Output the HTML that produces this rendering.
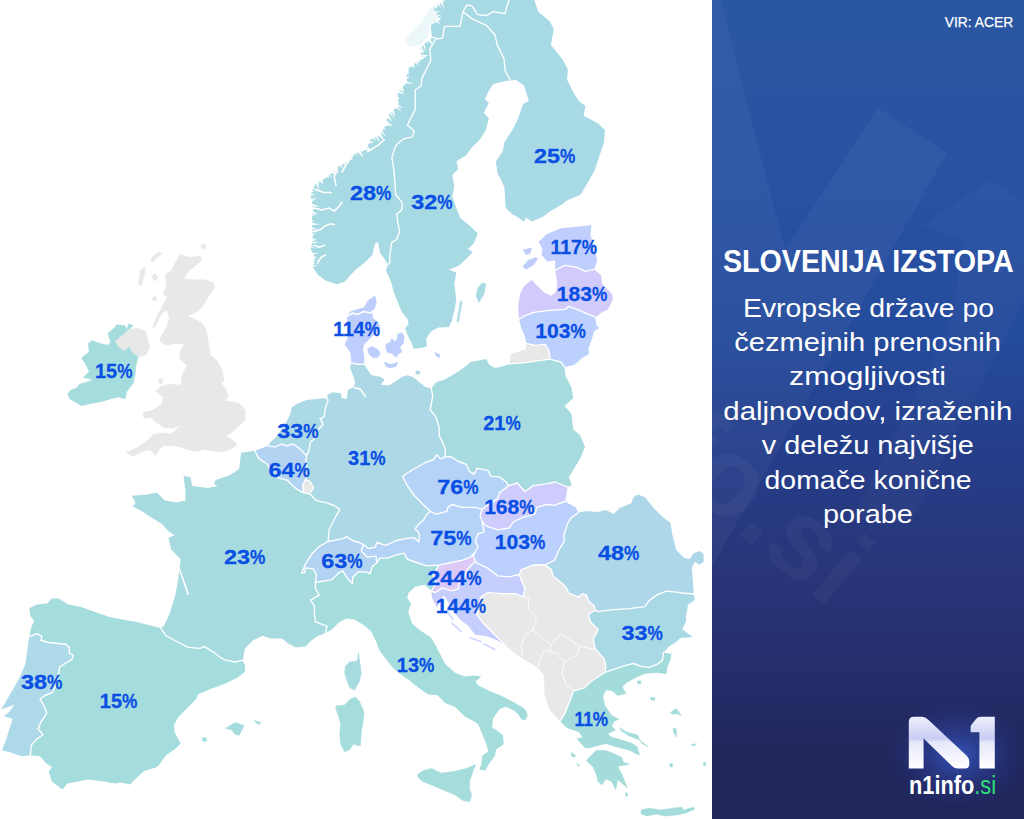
<!DOCTYPE html>
<html lang="sl">
<head>
<meta charset="utf-8">
<title>Slovenija izstopa</title>
<style>
html,body{margin:0;padding:0;}
body{width:1024px;height:819px;position:relative;overflow:hidden;background:#fff;font-family:"Liberation Sans",sans-serif;}
#map{position:absolute;left:0;top:0;width:1024px;height:819px;}
#map text{font-family:"Liberation Sans",sans-serif;font-weight:700;font-size:20.8px;fill:#0a4fe4;stroke:#0a4fe4;stroke-width:0.3px;text-anchor:middle;}
#panel{position:absolute;left:712px;top:0;width:312px;height:819px;overflow:hidden;
 background:linear-gradient(180deg,#2a57a2 0%,#2951a3 26%,#244a9b 42%,#253e8a 55%,#28367a 69%,#262e6c 81%,#22285e 91%,#20255a 100%);}
#panel svg.deco{position:absolute;left:0;top:0;width:312px;height:819px;}
#vir{position:absolute;right:10.4px;top:12.4px;color:#fff;font-size:15.4px;line-height:20px;font-weight:400;white-space:nowrap;transform:scaleX(0.898);transform-origin:100% 50%;-webkit-text-stroke:0.25px #fff;}
#title{position:absolute;left:-44px;width:400px;top:243px;text-align:center;color:#fff;font-weight:700;font-size:31px;line-height:38px;white-space:nowrap;}
#title span{display:inline-block;transform-origin:50% 50%;transform:scaleX(0.924);}
#desc{position:absolute;left:-44px;width:400px;top:290.6px;text-align:center;color:#fff;font-size:25px;line-height:34.4px;}
#desc div{white-space:nowrap;height:34.4px;}
#desc span{display:inline-block;transform-origin:50% 50%;}
#logo{position:absolute;left:0;top:0;width:312px;height:819px;}
#n1info{position:absolute;left:196.8px;top:769.5px;color:#fff;font-weight:700;font-size:25px;line-height:30px;white-space:nowrap;transform:scaleX(0.87);transform-origin:0 50%;}
#n1info i{font-style:normal;font-weight:400;color:#2fe07a;}
</style>
</head>
<body>
<svg id="map" viewBox="0 0 1024 819">
<path d="M445.4,0.0 508.9,0.0 505.0,13.7 493.3,11.7 486.4,15.6 477.7,14.6 471.8,5.9 466.9,4.9 463.0,11.7 460.0,26.4 444.5,26.4 442.5,38.1 435.7,39.0 429.8,48.8 430.8,60.5 422.0,78.1 421.0,86.0 415.2,89.8 415.2,109.4 407.3,125.0 414.2,130.9 412.3,136.8 403.5,138.8 395.7,145.6 391.8,157.3 393.8,169.1 394.7,180.8 395.7,194.5 402.5,203.2 401.6,210.1 396.7,214.0 397.7,221.8 399.6,231.6 396.7,239.4 391.8,242.3 389.8,255.0 389.8,262.8 387.9,264.8 385.9,260.9 380.1,253.0 378.1,242.3 375.2,243.3 372.3,255.0 364.5,262.8 354.7,270.6 344.9,281.4 337.1,284.3 325.4,280.4 317.6,274.5 312.7,266.7 314.6,257.0 310.7,249.1 312.7,239.4 311.7,223.8 312.7,208.1 310.7,194.5 314.6,184.7 327.3,176.9 337.1,167.1 346.9,162.2 354.7,153.4 366.4,149.5 370.3,139.8 380.0,134.8 385.9,125.0 387.8,115.2 398.6,105.5 397.6,91.8 407.3,82.0 405.4,70.3 422.0,58.6 419.0,48.8 432.0,37.1 430.5,26.0 439.0,19.5 434.0,8.8 445.4,0.0Z" fill="#a8dae4"/>
<path d="M463.0,11.7 471.8,18.6 486.4,25.4 495.2,35.2 497.2,44.9 504.0,58.6 505.0,70.3 510.9,81.0 508.4,80.5 497.2,83.0 492.7,84.4 488.4,91.8 484.9,99.0 488.8,103.0 483.9,112.7 488.8,118.6 485.9,130.3 479.7,139.8 471.9,147.6 466.0,155.4 456.3,161.3 458.2,169.1 452.3,174.9 454.3,186.6 452.3,196.4 456.3,208.1 460.2,217.9 469.9,225.7 477.7,233.5 473.8,243.3 468.0,249.1 472.9,252.1 466.0,258.9 460.2,264.8 454.3,267.7 448.4,269.6 456.3,272.6 454.3,284.3 456.2,299.0 454.8,309.3 451.8,321.0 448.9,326.9 438.6,327.6 431.3,331.3 426.2,338.6 426.9,346.6 421.1,348.1 413.7,348.8 411.6,343.0 407.9,335.7 405.0,328.3 408.6,323.9 407.9,319.5 402.0,312.2 397.6,302.0 393.2,290.3 391.8,284.3 389.8,278.4 385.9,270.6 387.9,264.8 389.8,262.8 389.8,255.0 391.8,242.3 396.7,239.4 399.6,231.6 397.7,221.8 396.7,214.0 401.6,210.1 402.5,203.2 395.7,194.5 394.7,180.8 393.8,169.1 391.8,157.3 395.7,145.6 403.5,138.8 412.3,136.8 414.2,130.9 407.3,125.0 415.2,109.4 415.2,89.8 421.0,86.0 422.0,78.1 430.8,60.5 429.8,48.8 435.7,39.0 442.5,38.1 444.5,26.4 460.0,26.4 463.0,11.7Z" fill="#a8dae4"/>
<path d="M508.9,0.0 534.3,0.0 538.2,11.7 549.9,21.5 553.8,29.3 550.9,44.9 563.0,60.0 567.9,69.8 567.0,79.5 572.8,91.3 578.7,101.0 585.5,105.9 583.6,115.7 598.2,123.5 605.0,130.3 604.1,142.0 594.3,171.3 580.6,194.8 567.0,200.6 561.1,204.9 549.4,211.7 543.5,216.6 531.8,221.5 526.0,217.5 524.0,221.5 518.1,217.6 512.3,214.3 507.4,209.8 505.4,206.5 504.5,187.0 497.6,173.3 495.7,161.6 502.5,151.8 504.5,142.0 512.3,130.3 518.1,118.6 523.0,103.9 528.9,101.0 524.0,85.4 515.2,79.5 510.9,81.0 505.0,70.3 504.0,58.6 497.2,44.9 495.2,35.2 486.4,25.4 471.8,18.6 463.0,11.7 466.9,4.9 471.8,5.9 477.7,14.6 486.4,15.6 493.3,11.7 505.0,13.7 508.9,0.0Z" fill="#a8dae5"/>
<path d="M351.5,362.8 356.6,364.2 363.9,364.2 368.3,370.8 371.3,375.2 380.1,376.7 384.5,379.6 380.8,384.7 388.8,385.5 396.2,381.1 402.0,376.7 407.9,375.2 413.7,377.4 419.6,382.5 425.5,386.9 431.3,388.4 432.7,396.2 430.2,409.8 436.0,417.2 439.0,427.0 439.5,436.2 443.4,444.0 445.3,449.8 445.2,456.8 442.0,458.6 440.4,458.6 436.8,454.7 433.6,459.6 425.4,462.5 421.9,464.5 412.1,470.0 404.3,475.2 402.6,476.6 407.5,486.0 414.3,495.5 423.6,505.0 430.3,511.3 425.4,516.2 423.4,520.1 418.9,523.9 415.0,528.8 418.9,532.7 419.5,535.7 418.9,541.9 414.0,537.6 405.2,538.6 396.4,540.5 385.7,545.4 376.9,542.5 375.0,547.3 368.1,548.3 363.2,544.4 359.3,542.5 352.5,540.5 346.6,536.6 342.7,538.6 328.1,541.5 329.1,529.8 334.0,520.0 335.9,516.3 339.8,509.4 334.0,505.5 326.2,502.6 316.4,500.6 309.6,493.8 313.5,487.9 310.5,482.1 305.7,479.1 308.6,471.3 305.7,463.5 306.6,455.7 308.6,451.8 310.5,442.0 315.4,438.1 318.4,429.3 323.2,424.5 320.3,418.6 324.2,416.6 325.2,408.8 328.1,400.0 327.1,395.2 332.0,392.2 340.8,393.2 341.8,398.1 346.7,399.1 347.8,389.9 353.7,386.9 355.2,382.5 353.0,375.2 350.0,367.9 351.5,362.8Z" fill="#add8e6"/>
<path d="M431.3,388.4 435.7,382.5 444.5,379.6 454.8,373.7 463.5,367.9 470.8,362.0 486.4,359.1 489.3,364.9 495.2,367.9 504.0,365.9 509.8,363.9 525.5,362.6 549.9,359.1 560.6,362.0 564.5,366.9 565.5,375.7 571.4,387.4 573.3,398.1 564.5,405.9 571.4,413.8 573.3,429.4 580.2,435.2 585.0,446.9 580.7,457.6 573.8,469.3 568.9,477.1 571.8,485.6 567.5,487.0 555.3,482.0 545.5,483.9 532.8,485.9 525.0,491.8 517.2,483.0 508.4,485.9 506.4,482.0 499.6,477.1 490.8,476.1 487.9,470.3 477.1,468.3 474.2,474.2 469.3,471.3 466.4,464.4 458.6,461.5 450.8,456.6 445.2,456.8 445.3,449.8 443.4,444.0 439.5,436.2 439.0,427.0 436.0,417.2 430.2,409.8 432.7,396.2 431.3,388.4Z" fill="#a8dbe0"/>
<path d="M254.8,450.7 258.8,458.6 266.6,463.5 271.5,471.3 279.3,478.2 287.1,480.1 292.0,485.0 297.9,489.9 303.7,492.8 309.6,493.8 316.4,500.6 326.2,502.6 334.0,505.5 339.8,509.4 335.9,516.3 334.0,520.0 329.1,529.8 328.1,541.5 319.3,546.4 312.5,553.2 305.6,563.9 301.7,572.7 304.6,572.7 305.6,567.9 313.4,568.8 316.4,574.7 315.4,582.5 315.4,588.4 319.3,595.2 310.5,600.1 314.4,605.9 314.4,613.8 315.4,621.6 327.1,626.4 325.2,633.3 317.3,636.2 311.4,640.5 305.5,646.4 295.8,647.4 288.0,643.5 282.1,638.6 270.4,638.6 262.6,635.7 252.8,640.5 245.0,648.4 243.0,658.1 245.0,664.0 243.0,660.1 235.2,662.0 225.5,660.1 219.6,657.1 213.8,652.3 204.0,646.4 200.1,648.4 188.4,647.4 176.6,641.5 165.9,635.7 160.5,627.9 163.9,625.9 169.8,613.2 174.7,597.6 176.6,588.4 178.6,576.7 179.6,567.0 180.9,559.5 171.2,549.4 168.4,537.7 174.7,535.3 168.8,531.4 162.0,524.0 149.3,516.2 140.5,510.3 132.7,506.4 135.6,502.5 131.7,495.7 145.4,494.7 157.1,492.7 164.9,500.5 176.6,502.5 185.4,500.5 185.4,490.8 183.5,476.1 190.3,477.1 192.3,485.9 207.9,487.9 217.7,485.9 213.8,483.9 215.7,480.0 229.4,475.2 239.1,469.3 241.1,452.7 254.8,450.7Z" fill="#a7dbe0"/>
<path d="M160.5,627.9 165.9,635.7 176.6,641.5 188.4,647.4 200.1,648.4 204.0,646.4 213.8,652.3 219.6,657.1 225.5,660.1 235.2,662.0 243.0,660.1 245.0,664.0 245.0,671.8 237.2,677.7 225.5,683.5 211.8,688.4 198.1,694.3 196.2,699.1 186.4,708.9 178.6,716.7 173.7,725.5 174.8,732.7 180.7,743.5 175.8,748.4 166.0,755.2 158.2,765.9 154.3,767.9 144.5,770.8 136.7,777.7 129.9,784.5 121.1,782.5 115.2,783.5 103.5,781.6 87.9,779.6 78.1,781.6 67.4,783.5 62.5,789.4 51.8,781.6 48.8,771.8 51.8,766.9 46.9,764.0 40.0,756.2 30.3,755.2 31.3,745.4 36.1,739.6 43.0,734.7 38.1,728.8 41.0,722.0 46.9,713.2 43.9,705.4 40.0,699.1 43.9,696.2 52.7,692.3 56.6,683.5 58.6,673.8 59.6,666.9 64.5,664.0 72.3,659.1 73.2,655.2 69.3,653.2 69.3,647.4 66.4,644.5 58.6,643.5 48.8,642.5 41.0,640.5 42.0,636.6 37.1,633.7 29.3,636.6 31.3,626.9 34.2,621.0 30.3,616.1 29.3,608.3 37.1,604.4 46.9,603.4 51.8,598.6 58.6,598.6 68.4,604.4 82.0,607.3 95.7,612.2 109.4,617.1 125.0,620.0 136.7,622.0 152.3,625.9 160.5,627.9Z" fill="#a5dcdd"/>
<path d="M325.2,633.3 327.1,626.4 315.4,621.6 314.4,613.8 314.4,605.9 310.5,600.1 319.3,595.2 315.4,588.4 315.4,582.5 321.3,581.5 332.0,579.6 337.9,573.7 342.7,570.8 347.6,578.6 352.5,583.5 352.5,577.6 358.4,571.8 366.2,571.8 370.1,573.7 372.0,566.9 376.9,563.0 379.8,558.1 387.7,558.1 395.5,555.2 404.3,553.2 407.2,559.1 415.0,562.0 426.7,565.9 439.1,565.2 433.2,575.2 436.1,583.0 431.3,590.8 424.8,584.8 415.0,586.8 408.2,593.2 407.2,598.1 411.1,604.0 408.2,611.8 412.1,623.5 418.9,629.4 430.6,637.2 435.5,645.0 441.4,656.7 445.2,663.9 455.0,672.7 464.8,676.6 474.5,675.6 481.4,676.6 475.5,681.5 478.4,685.4 490.2,691.3 501.9,696.1 513.6,702.0 523.4,707.9 527.3,714.7 525.3,720.5 521.4,717.6 514.6,710.8 505.8,706.9 499.9,708.8 493.1,718.6 492.1,727.4 498.0,731.3 502.9,735.2 503.8,744.0 496.0,749.8 495.0,755.7 489.2,763.5 485.3,770.4 479.4,769.4 481.4,763.5 482.3,755.7 488.2,751.8 486.3,744.0 482.3,734.2 478.4,724.5 472.6,720.5 464.8,716.6 455.0,706.9 445.2,703.0 437.4,695.2 427.7,694.2 417.9,687.3 408.1,679.5 403.3,676.3 393.5,668.4 385.7,658.7 379.8,650.9 375.9,641.1 371.1,631.3 364.2,625.5 354.5,619.6 346.6,618.6 338.8,622.5 332.0,629.4 325.2,633.3Z" fill="#a5dcdc"/>
<path d="M560.0,721.2 564.9,713.3 568.8,703.5 573.7,690.8 584.5,687.9 590.3,682.0 605.0,672.3 613.8,669.3 625.5,665.4 633.3,663.5 641.1,666.4 648.9,667.4 656.7,664.5 662.2,660.9 663.6,652.7 671.4,653.7 670.4,660.5 667.5,666.4 666.5,674.2 656.7,672.7 645.0,673.8 635.2,678.1 626.4,683.0 622.5,686.9 626.4,693.8 617.7,695.7 611.8,690.8 605.9,690.2 603.0,696.7 605.0,705.5 611.8,715.2 619.6,719.3 614.7,721.3 611.8,726.1 615.7,730.0 607.9,734.0 611.8,736.9 621.6,739.8 631.3,742.7 637.2,746.6 640.1,755.4 637.2,754.5 629.4,750.5 621.6,748.6 613.8,746.6 605.9,743.7 598.1,745.7 588.4,748.6 584.5,747.6 576.6,738.8 582.5,736.9 578.6,732.0 566.9,728.1 560.0,721.2Z" fill="#a4dcdb"/>
<path d="M267.6,445.9 270.5,442.0 275.4,438.1 279.3,432.3 286.1,422.5 290.0,414.7 292.0,406.9 298.8,403.0 306.6,400.0 316.4,399.1 324.2,398.1 328.1,400.0 325.2,408.8 324.2,416.6 320.3,418.6 323.2,424.5 318.4,429.3 315.4,438.1 310.5,442.0 308.6,451.8 306.6,455.7 302.7,451.8 298.8,447.9 293.0,444.0 287.1,445.9 281.3,444.0 275.4,446.9 267.6,445.9Z" fill="#abd9e6"/>
<path d="M595.2,610.2 598.1,611.6 613.8,609.6 629.4,608.7 645.0,606.7 648.9,600.9 656.7,595.0 666.5,591.1 676.3,592.1 682.1,593.0 693.8,594.0 694.8,599.9 688.0,604.8 686.0,616.5 686.0,621.5 682.1,629.3 692.9,637.1 680.2,638.1 676.3,642.0 668.4,646.9 663.6,652.7 662.2,660.9 656.7,664.5 648.9,667.4 641.1,666.4 633.3,663.5 625.5,665.4 613.8,669.3 605.0,672.3 605.9,666.4 604.0,658.6 595.2,648.8 593.2,639.1 598.1,629.6 590.3,621.9 588.4,614.5 595.2,610.2Z" fill="#aad9e6"/>
<path d="M29.3,636.6 37.1,633.7 42.0,636.6 41.0,640.5 48.8,642.5 58.6,643.5 66.4,644.5 69.3,647.4 69.3,653.2 73.2,655.2 72.3,659.1 64.5,664.0 59.6,666.9 58.6,673.8 56.6,683.5 52.7,692.3 43.9,696.2 40.0,699.1 43.9,705.4 46.9,713.2 41.0,722.0 38.1,728.8 43.0,734.7 36.1,739.6 31.3,745.4 30.3,755.2 21.5,756.2 9.8,752.3 2.0,750.3 5.9,740.5 8.8,730.8 12.7,719.1 3.9,716.1 8.8,712.2 14.6,704.4 7.8,707.3 1.0,709.3 3.9,705.0 10.7,693.3 18.6,679.6 25.4,664.0 27.3,650.3 29.3,636.6Z" fill="#aed9e9"/>
<path d="M578.2,512.6 586.4,511.0 598.1,512.0 605.9,510.0 613.8,513.9 619.6,508.1 631.3,503.2 633.3,497.3 638.2,494.4 645.0,497.3 652.8,507.1 662.6,516.9 670.4,522.7 672.3,534.5 676.3,550.1 684.1,557.9 689.9,558.9 693.8,553.0 699.7,551.1 703.6,554.0 703.6,561.8 699.7,564.7 694.8,561.8 691.9,567.7 692.9,581.3 693.8,594.0 682.1,593.0 676.3,592.1 666.5,591.1 656.7,595.0 648.9,600.9 645.0,606.7 629.4,608.7 613.8,609.6 598.1,611.6 595.2,610.2 594.2,605.7 588.4,600.9 586.4,595.0 582.5,594.0 578.6,597.0 568.8,593.0 565.9,587.2 562.0,583.3 553.2,576.4 551.3,569.6 545.0,564.8 554.3,560.5 559.2,549.5 564.1,541.6 564.0,534.5 567.5,524.0 570.9,518.1 578.2,512.6Z" fill="#aed8ea"/>
<path d="M328.1,541.5 342.7,538.6 346.6,536.6 352.5,540.5 359.3,542.5 363.2,544.4 361.3,551.3 367.1,557.1 375.9,556.1 376.9,563.0 372.0,566.9 370.1,573.7 366.2,571.8 358.4,571.8 352.5,577.6 352.5,583.5 347.6,578.6 342.7,570.8 337.9,573.7 332.0,579.6 321.3,581.5 315.4,582.5 316.4,574.7 313.4,568.8 305.6,567.9 304.6,572.7 301.7,572.7 305.6,563.9 312.5,553.2 319.3,546.4 328.1,541.5Z" fill="#b3d3f2"/>
<path d="M254.8,450.7 267.6,445.9 275.4,446.9 281.3,444.0 287.1,445.9 293.0,444.0 298.8,447.9 302.7,451.8 306.6,455.7 305.7,463.5 308.6,471.3 305.7,479.1 302.7,485.0 303.7,492.8 297.9,489.9 292.0,485.0 287.1,480.1 279.3,478.2 271.5,471.3 266.6,463.5 258.8,458.6 254.8,450.7Z" fill="#b3d3f3"/>
<path d="M363.2,544.4 368.1,548.3 375.0,547.3 376.9,542.5 385.7,545.4 396.4,540.5 405.2,538.6 414.0,537.6 418.9,541.9 419.5,535.7 418.9,532.7 415.0,528.8 418.9,523.9 423.4,520.1 425.4,516.2 430.3,511.3 436.1,514.2 446.9,511.3 447.9,507.4 451.8,504.5 462.5,507.4 475.2,507.4 482.0,509.3 480.1,515.2 482.0,521.1 484.0,531.8 478.1,533.8 475.2,541.6 478.1,546.4 475.2,552.3 470.3,557.2 462.5,560.1 448.8,563.0 439.1,565.2 426.7,565.9 415.0,562.0 407.2,559.1 404.3,553.2 395.5,555.2 387.7,558.1 379.8,558.1 376.9,563.0 375.9,556.1 367.1,557.1 361.3,551.3 363.2,544.4Z" fill="#b5d3f7"/>
<path d="M445.2,456.8 442.0,458.6 440.4,458.6 436.8,454.7 433.6,459.6 425.4,462.5 421.9,464.5 412.1,470.0 404.3,475.2 402.6,476.6 407.5,486.0 414.3,495.5 423.6,505.0 430.3,511.3 436.1,514.2 446.9,511.3 447.9,507.4 451.8,504.5 462.5,507.4 475.2,507.4 482.0,509.3 485.9,506.4 497.7,498.6 499.6,492.7 508.4,485.9 506.4,482.0 499.6,477.1 490.8,476.1 487.9,470.3 477.1,468.3 474.2,474.2 469.3,471.3 466.4,464.4 458.6,461.5 450.8,456.6 445.2,456.8Z" fill="#b5d3f7"/>
<path d="M482.0,521.1 485.9,525.9 497.7,529.8 509.4,527.9 513.3,522.0 521.1,518.1 534.8,514.2 536.7,507.4 546.5,504.5 554.3,505.4 565.0,501.5 575.8,507.4 578.2,512.6 570.9,518.1 567.5,524.0 564.0,534.5 564.1,541.6 559.2,549.5 554.3,560.5 545.0,564.8 532.8,565.0 521.1,569.9 519.1,574.5 509.4,576.9 497.7,575.9 487.9,568.2 477.1,563.2 475.2,561.3 473.2,556.0 475.2,552.3 478.1,546.4 475.2,541.6 478.1,533.8 484.0,531.8 482.0,521.1Z" fill="#bbd0fd"/>
<path d="M519.1,319.1 524.0,316.2 533.8,312.3 549.4,310.4 565.0,309.4 568.9,306.4 576.7,309.4 586.5,313.3 595.3,317.2 596.3,325.0 599.2,327.9 594.3,330.9 591.4,340.6 588.4,348.4 588.9,354.2 582.1,358.1 574.3,364.9 564.5,366.9 560.6,362.0 549.9,359.1 548.9,350.3 545.0,344.4 535.2,345.4 526.4,343.4 525.0,336.7 521.0,327.0 519.1,319.1Z" fill="#bbd0fd"/>
<path d="M594.3,269.3 585.5,271.3 576.7,267.4 565.0,265.4 555.2,270.3 555.2,260.5 547.4,261.5 541.6,254.7 542.5,248.8 538.6,242.0 546.4,234.2 561.1,228.3 588.4,225.4 591.4,224.4 590.4,234.2 594.3,248.8 597.2,260.5 594.3,269.3Z" fill="#bfcefd"/>
<path d="M431.3,590.8 435.2,592.7 442.0,587.9 451.8,590.8 458.6,588.8 458.6,583.9 464.5,577.1 467.4,569.3 475.2,561.3 477.1,563.2 487.9,568.2 497.7,575.9 509.4,576.9 519.1,574.5 522.1,582.0 525.0,588.8 523.0,596.6 515.2,593.7 501.6,593.7 487.9,592.7 481.1,596.6 478.1,606.4 477.1,615.2 484.0,624.0 493.8,633.8 505.5,645.5 497.7,640.6 485.9,636.1 475.2,634.7 468.4,625.9 460.5,620.1 453.0,611.0 449.0,603.0 443.9,595.7 441.4,598.6 437.1,607.4 432.2,598.6 431.3,590.8Z" fill="#c6cefd"/>
<path d="M482.0,509.3 485.9,506.4 497.7,498.6 499.6,492.7 508.4,485.9 517.2,483.0 525.0,491.8 532.8,485.9 545.5,483.9 555.3,482.0 567.5,487.0 566.0,496.6 565.0,501.5 554.3,505.4 546.5,504.5 536.7,507.4 534.8,514.2 521.1,518.1 513.3,522.0 509.4,527.9 497.7,529.8 485.9,525.9 482.0,521.1 480.1,515.2 482.0,509.3Z" fill="#cdccfc"/>
<path d="M555.2,270.3 565.0,265.4 576.7,267.4 585.5,271.3 594.3,269.3 601.1,275.2 602.1,284.0 611.9,293.8 612.9,299.6 608.0,309.4 602.1,312.3 595.3,317.2 586.5,313.3 576.7,309.4 568.9,306.4 565.0,309.4 549.4,310.4 533.8,312.3 524.0,316.2 519.1,319.1 518.1,306.4 520.1,293.8 524.0,285.9 531.8,280.1 537.7,285.9 544.5,292.8 551.3,295.7 556.2,291.8 557.2,282.0 555.2,270.3Z" fill="#d1cbfb"/>
<path d="M439.1,565.2 448.8,563.0 462.5,560.1 470.3,557.2 475.2,552.3 473.2,556.0 475.2,561.3 467.4,569.3 464.5,577.1 458.6,583.9 458.6,588.8 451.8,590.8 442.0,587.9 435.2,592.7 431.3,590.8 436.1,583.0 433.2,575.2 439.1,565.2Z" fill="#dcc9f5"/>
<path d="M519.1,574.5 521.1,569.9 532.8,565.0 545.0,564.8 551.3,569.6 553.2,576.4 562.0,583.3 565.9,587.2 568.8,593.0 578.6,597.0 582.5,594.0 586.4,595.0 588.4,600.9 594.2,605.7 595.2,610.2 588.4,614.5 590.3,621.9 598.1,629.6 593.2,639.1 595.2,648.8 604.0,658.6 605.9,666.4 605.0,672.3 590.3,682.0 584.5,687.9 573.7,690.8 568.8,703.5 564.9,713.3 560.0,721.2 549.3,709.4 544.4,693.8 544.5,686.5 543.6,674.8 536.7,667.0 517.2,655.2 505.5,645.5 493.8,633.8 484.0,624.0 477.1,615.2 478.1,606.4 481.1,596.6 487.9,592.7 501.6,593.7 515.2,593.7 523.0,596.6 525.0,588.8 522.1,582.0 519.1,574.5Z" fill="#e8e8e8"/>
<path d="M303.7,492.8 302.7,485.0 305.7,479.1 310.5,482.1 313.5,487.9 309.6,493.8 303.7,492.8Z" fill="#e8e8e8"/>
<path d="M526.4,343.4 535.2,345.4 545.0,344.4 548.9,350.3 549.9,359.1 525.5,362.6 509.8,363.9 510.8,354.2 525.5,349.3 526.4,343.4Z" fill="#e8e8e8"/>
<path d="M374.9,296.1 376.4,302.0 374.2,310.0 372.0,312.2 372.7,318.1 377.9,322.5 380.1,326.9 377.9,331.3 372.7,335.7 368.3,340.1 363.9,344.4 362.5,350.3 363.9,356.2 363.9,364.2 356.6,364.2 351.5,362.8 350.8,353.2 347.1,347.4 344.9,344.4 347.8,338.6 347.8,329.8 347.1,321.0 347.8,315.2 350.8,311.5 358.1,309.3 363.9,307.8 368.3,300.5Z" fill="#becefc" stroke="#becefc" stroke-width="0.6"/>
<path d="M367.6,348.8 372.0,346.6 377.9,349.6 380.1,353.2 377.9,357.6 372.7,357.6 369.1,354.0Z" fill="#becefc" stroke="#becefc" stroke-width="0.6"/>
<path d="M385.9,344.4 390.3,342.3 391.8,338.6 394.7,341.5 397.6,338.6 397.6,334.2 402.0,332.7 404.2,336.4 403.5,343.0 399.8,347.4 402.0,351.8 397.6,354.7 396.2,357.6 391.8,353.2 387.4,352.5 385.9,348.1Z" fill="#becefc" stroke="#becefc" stroke-width="0.6"/>
<path d="M384.5,362.0 389.6,364.2 394.7,363.5 397.6,362.0 396.2,366.4 390.3,367.9 385.9,366.4Z" fill="#becefc" stroke="#becefc" stroke-width="0.6"/>
<path d="M435.0,352.5 440.1,354.7 439.4,357.6 435.7,355.4Z" fill="#becefc" stroke="#becefc" stroke-width="0.6"/>
<path d="M482.0,283.0 485.9,284.0 483.9,293.8 479.0,302.5 476.1,295.7 478.1,287.9Z" fill="#a8dae4" stroke="#a8dae4" stroke-width="0.6"/>
<path d="M460.6,300.5 462.1,302.0 458.4,322.5 457.0,321.0Z" fill="#a8dae4" stroke="#a8dae4" stroke-width="0.6"/>
<path d="M415.9,370.8 420.3,371.5 418.9,374.5 415.9,373.7Z" fill="#add8e6" stroke="#add8e6" stroke-width="0.6"/>
<path d="M523.0,249.8 531.8,247.9 529.8,253.7 526.0,254.7Z" fill="#bfcefd" stroke="#bfcefd" stroke-width="0.6"/>
<path d="M523.0,266.4 527.9,260.5 535.7,257.6 537.7,258.6 533.8,264.5 526.0,269.3Z" fill="#bfcefd" stroke="#bfcefd" stroke-width="0.6"/>
<path d="M417.9,774.3 423.8,770.4 431.6,768.4 441.3,773.3 455.0,771.3 466.7,768.4 475.5,764.5 472.6,772.3 469.6,781.1 469.6,788.9 471.6,794.8 469.6,801.6 462.8,800.6 455.0,794.8 443.3,789.9 431.6,785.0 421.8,781.1 417.9,777.2Z" fill="#a5dcdc" stroke="#a5dcdc" stroke-width="0.6"/>
<path d="M335.9,705.9 344.6,704.9 350.5,699.1 355.4,697.1 359.3,701.0 361.3,705.9 364.2,712.7 363.2,720.5 361.3,732.3 360.3,745.9 353.4,744.0 349.5,749.8 344.6,751.8 340.7,744.0 339.8,734.2 340.7,724.5 338.8,716.6 335.9,708.8Z" fill="#a5dcdc" stroke="#a5dcdc" stroke-width="0.6"/>
<path d="M345.6,665.9 349.5,662.0 357.3,661.0 358.4,652.8 360.3,665.9 361.3,673.7 359.3,681.5 354.4,690.3 349.5,687.3 346.6,679.5 344.6,672.7Z" fill="#a7dbe0" stroke="#a7dbe0" stroke-width="0.6"/>
<path d="M225.5,728.4 235.2,722.6 244.0,725.5 239.1,735.3 235.2,734.3 231.3,729.4Z" fill="#a5dcdd" stroke="#a5dcdd" stroke-width="0.6"/>
<path d="M254.8,720.6 260.6,722.6 259.6,724.5 255.7,722.6Z" fill="#a5dcdd" stroke="#a5dcdd" stroke-width="0.6"/>
<path d="M202.0,738.0 206.0,737.5 207.0,741.0 203.0,741.5Z" fill="#a5dcdd" stroke="#a5dcdd" stroke-width="0.6"/>
<path d="M586.4,760.3 596.2,750.5 605.9,750.5 615.7,754.5 621.6,757.4 623.5,762.3 629.4,764.2 617.7,766.2 621.6,774.0 627.4,787.7 622.5,783.8 617.7,779.8 615.7,789.6 611.8,781.8 605.9,778.9 602.0,784.7 598.1,781.8 596.2,774.0 593.2,767.1Z" fill="#a4dcdb" stroke="#a4dcdb" stroke-width="0.6"/>
<path d="M619.6,728.1 626.4,732.0 637.2,734.9 642.1,743.7 647.9,746.6 639.1,739.8 629.4,735.9 621.6,731.0Z" fill="#a4dcdb" stroke="#a4dcdb" stroke-width="0.6"/>
<path d="M641.1,810.1 648.9,808.2 660.6,810.1 672.3,808.2 682.1,807.2 683.1,810.1 693.8,807.2 694.8,809.1 686.0,813.0 676.3,815.0 664.5,816.0 656.7,814.0 646.9,816.0 641.1,814.0Z" fill="#a4dcdb" stroke="#a4dcdb" stroke-width="0.6"/>
<path d="M670.4,712.5 676.3,708.6 681.1,715.4 676.3,713.4 673.0,714.5Z" fill="#a4dcdb" stroke="#a4dcdb" stroke-width="0.6"/>
<path d="M673.3,728.1 676.3,729.1 676.3,736.9 673.3,732.0Z" fill="#a4dcdb" stroke="#a4dcdb" stroke-width="0.6"/>
<path d="M690.9,744.7 696.8,743.7 693.8,746.2Z" fill="#a4dcdb" stroke="#a4dcdb" stroke-width="0.6"/>
<path d="M571.8,752.5 575.7,755.4 573.7,757.4 571.2,755.4Z" fill="#a4dcdb" stroke="#a4dcdb" stroke-width="0.6"/>
<path d="M576.6,763.2 579.6,765.2 578.0,766.2Z" fill="#a4dcdb" stroke="#a4dcdb" stroke-width="0.6"/>
<path d="M520.0,706.6 525.9,710.5 527.4,716.4 522.9,720.3 520.0,717.3Z" fill="#a4dcdb" stroke="#a4dcdb" stroke-width="0.6"/>
<path d="M637.5,681.0 641.0,681.0 640.5,684.0 637.5,683.5Z" fill="#a4dcdb" stroke="#a4dcdb" stroke-width="0.6"/>
<path d="M650.5,697.5 655.0,697.5 654.5,700.5 651.0,700.0Z" fill="#a4dcdb" stroke="#a4dcdb" stroke-width="0.6"/>
<path d="M670.0,763.5 672.5,763.5 672.5,767.0 670.0,767.0Z" fill="#a4dcdb" stroke="#a4dcdb" stroke-width="0.6"/>
<path d="M703.5,762.5 706.0,763.0 705.0,766.0 703.3,765.5Z" fill="#a4dcdb" stroke="#a4dcdb" stroke-width="0.6"/>
<path d="M625.5,793.0 627.5,793.0 627.5,796.0 625.5,796.0Z" fill="#a4dcdb" stroke="#a4dcdb" stroke-width="0.6"/>
<path d="M180.1,254.4 188.9,257.3 200.6,256.4 201.6,260.3 194.8,266.1 187.0,273.0 183.0,278.8 192.8,279.8 204.5,279.8 213.3,282.7 214.3,287.6 208.4,296.4 202.6,306.2 196.7,312.0 187.0,315.9 192.8,317.9 202.6,323.8 206.5,331.6 208.4,343.3 210.4,355.0 216.3,359.8 222.1,369.5 224.1,381.3 220.2,382.2 226.0,389.1 228.0,396.9 224.1,400.8 231.9,401.8 239.7,403.7 245.5,410.5 244.6,420.3 238.7,426.2 231.9,432.0 226.0,435.9 231.9,439.8 236.8,443.8 233.8,447.7 224.1,451.6 216.3,451.6 204.5,449.6 194.8,451.6 185.0,448.6 175.2,445.7 163.5,445.7 157.7,451.6 155.7,455.5 149.8,449.6 142.0,451.6 132.3,456.4 126.4,452.5 137.1,447.7 145.9,441.8 153.8,434.0 161.6,433.0 171.3,434.0 179.1,427.1 183.0,424.2 173.3,428.1 165.5,428.1 155.7,422.3 151.8,417.4 144.0,418.4 143.0,412.5 151.8,410.5 161.6,404.7 163.5,396.9 155.7,391.0 161.6,386.1 169.4,384.2 181.1,385.2 182.1,375.4 187.0,365.6 181.1,359.8 179.1,358.9 181.1,349.1 185.0,344.3 175.2,343.3 166.4,345.2 159.6,341.3 161.6,335.5 166.4,327.7 169.4,317.9 167.4,310.1 159.6,314.0 162.5,306.2 167.4,296.4 163.5,294.5 166.4,284.7 165.5,273.9 171.3,271.0 175.2,263.2Z" fill="#e8e8e8" stroke="#e8e8e8" stroke-width="0.6"/>
<path d="M114.7,341.3 120.5,336.4 128.4,329.6 138.1,328.6 145.9,331.6 147.9,341.3 149.8,347.2 145.9,355.0 138.1,357.0 132.3,353.0 129.3,347.2 124.5,351.1 118.6,347.2Z" fill="#e8e8e8" stroke="#e8e8e8" stroke-width="0.6"/>
<path d="M107.9,333.5 114.7,327.7 116.6,324.7 124.5,325.7 127.4,329.6 128.4,323.8 133.2,325.7 128.4,329.6 120.5,336.4 114.7,341.3 118.6,347.2 124.5,351.1 129.3,347.2 132.3,353.0 138.1,357.0 135.2,366.7 136.2,361.7 135.2,373.4 133.2,383.2 126.4,392.0 125.4,398.8 118.6,396.9 110.8,398.8 101.0,401.8 95.2,402.7 89.3,403.7 81.5,405.7 76.6,402.7 69.8,398.8 67.8,393.9 70.7,390.0 76.6,388.1 79.5,384.2 86.4,382.2 93.2,380.3 87.3,378.3 83.4,377.3 89.3,371.5 85.4,363.7 81.5,357.9 89.3,352.1 88.3,343.3 92.2,340.4 99.1,343.3 107.9,345.2 110.8,342.3Z" fill="#a5dcdd" stroke="#a5dcdd" stroke-width="0.6"/>
<path d="M151.0,258.0 158.0,252.5 162.0,253.0 156.0,259.0 152.0,262.0Z" fill="#e8e8e8" stroke="#e8e8e8" stroke-width="0.6"/>
<path d="M138.5,284.0 140.5,270.0 145.0,267.0 144.5,275.0 141.0,285.5Z" fill="#e8e8e8" stroke="#e8e8e8" stroke-width="0.6"/>
<path d="M201.0,245.0 205.0,243.5 205.5,248.0 202.0,249.0Z" fill="#e8e8e8" stroke="#e8e8e8" stroke-width="0.6"/>
<path d="M160.2,309.8 162.5,311.0 155.0,327.5 152.6,326.8Z" fill="#e8e8e8" stroke="#e8e8e8" stroke-width="0.6"/>
<path d="M151.5,276.0 155.0,273.5 158.5,278.0 154.0,281.0Z" fill="#e8e8e8" stroke="#e8e8e8" stroke-width="0.6"/>
<path d="M152.5,297.5 156.0,296.0 156.5,300.5 153.0,301.0Z" fill="#e8e8e8" stroke="#e8e8e8" stroke-width="0.6"/>
<path d="M158.5,379.5 162.0,378.5 163.0,382.0 160.0,384.0Z" fill="#e8e8e8" stroke="#e8e8e8" stroke-width="0.6"/>
<path d="M443,0 430,8 423,20 413,30 405,40 410,47 420,45 428,37 430.5,26 438,20 434,9 445,0Z" fill="#a8dae4" opacity="0.22"/>
<path d="M447,610 454,619 453,620.5 446,612Z M452,622 462,631 461,632.5 451,623.5Z M470,637 482,641 481.5,642.5 469.5,638.5Z M484,643 496,649 495,650.5 483,644.5Z" fill="#c6cefd" opacity="0.8"/>
<path d="M508.9,0.0 505.0,13.7 493.3,11.7 486.4,15.6 477.7,14.6 471.8,5.9 466.9,4.9 463.0,11.7 M463.0,11.7 460.0,26.4 444.5,26.4 442.5,38.1 435.7,39.0 429.8,48.8 430.8,60.5 422.0,78.1 421.0,86.0 415.2,89.8 415.2,109.4 407.3,125.0 414.2,130.9 412.3,136.8 403.5,138.8 395.7,145.6 391.8,157.3 393.8,169.1 394.7,180.8 395.7,194.5 402.5,203.2 401.6,210.1 396.7,214.0 397.7,221.8 399.6,231.6 396.7,239.4 391.8,242.3 389.8,255.0 389.8,262.8 387.9,264.8 M463.0,11.7 471.8,18.6 486.4,25.4 495.2,35.2 497.2,44.9 504.0,58.6 505.0,70.3 510.9,81.0 M431.3,388.4 432.7,396.2 430.2,409.8 436.0,417.2 439.0,427.0 439.5,436.2 443.4,444.0 445.3,449.8 445.2,456.8 M445.2,456.8 442.0,458.6 440.4,458.6 436.8,454.7 433.6,459.6 425.4,462.5 421.9,464.5 412.1,470.0 404.3,475.2 402.6,476.6 407.5,486.0 414.3,495.5 423.6,505.0 430.3,511.3 M430.3,511.3 425.4,516.2 423.4,520.1 418.9,523.9 415.0,528.8 418.9,532.7 419.5,535.7 418.9,541.9 414.0,537.6 405.2,538.6 396.4,540.5 385.7,545.4 376.9,542.5 375.0,547.3 368.1,548.3 363.2,544.4 M363.2,544.4 359.3,542.5 352.5,540.5 346.6,536.6 342.7,538.6 328.1,541.5 M328.1,541.5 329.1,529.8 334.0,520.0 335.9,516.3 339.8,509.4 334.0,505.5 326.2,502.6 316.4,500.6 309.6,493.8 M309.6,493.8 313.5,487.9 310.5,482.1 305.7,479.1 M305.7,479.1 308.6,471.3 305.7,463.5 306.6,455.7 M306.6,455.7 308.6,451.8 310.5,442.0 315.4,438.1 318.4,429.3 323.2,424.5 320.3,418.6 324.2,416.6 325.2,408.8 328.1,400.0 M351.5,362.8 356.6,364.2 363.9,364.2 M509.8,363.9 525.5,362.6 549.9,359.1 M549.9,359.1 560.6,362.0 564.5,366.9 M567.5,487.0 555.3,482.0 545.5,483.9 532.8,485.9 525.0,491.8 517.2,483.0 508.4,485.9 M508.4,485.9 506.4,482.0 499.6,477.1 490.8,476.1 487.9,470.3 477.1,468.3 474.2,474.2 469.3,471.3 466.4,464.4 458.6,461.5 450.8,456.6 445.2,456.8 M430.3,511.3 436.1,514.2 446.9,511.3 447.9,507.4 451.8,504.5 462.5,507.4 475.2,507.4 482.0,509.3 M482.0,509.3 485.9,506.4 497.7,498.6 499.6,492.7 508.4,485.9 M565.0,501.5 554.3,505.4 546.5,504.5 536.7,507.4 534.8,514.2 521.1,518.1 513.3,522.0 509.4,527.9 497.7,529.8 485.9,525.9 482.0,521.1 M482.0,521.1 480.1,515.2 482.0,509.3 M578.2,512.6 570.9,518.1 567.5,524.0 564.0,534.5 564.1,541.6 559.2,549.5 554.3,560.5 545.0,564.8 M545.0,564.8 532.8,565.0 521.1,569.9 519.1,574.5 M519.1,574.5 509.4,576.9 497.7,575.9 487.9,568.2 477.1,563.2 475.2,561.3 M475.2,561.3 473.2,556.0 475.2,552.3 M475.2,552.3 478.1,546.4 475.2,541.6 478.1,533.8 484.0,531.8 482.0,521.1 M475.2,552.3 470.3,557.2 462.5,560.1 448.8,563.0 439.1,565.2 M439.1,565.2 426.7,565.9 415.0,562.0 407.2,559.1 404.3,553.2 395.5,555.2 387.7,558.1 379.8,558.1 376.9,563.0 M376.9,563.0 375.9,556.1 367.1,557.1 361.3,551.3 363.2,544.4 M376.9,563.0 372.0,566.9 370.1,573.7 366.2,571.8 358.4,571.8 352.5,577.6 352.5,583.5 347.6,578.6 342.7,570.8 337.9,573.7 332.0,579.6 321.3,581.5 315.4,582.5 M315.4,582.5 316.4,574.7 313.4,568.8 305.6,567.9 304.6,572.7 301.7,572.7 305.6,563.9 312.5,553.2 319.3,546.4 328.1,541.5 M475.2,561.3 467.4,569.3 464.5,577.1 458.6,583.9 458.6,588.8 451.8,590.8 442.0,587.9 435.2,592.7 431.3,590.8 M431.3,590.8 436.1,583.0 433.2,575.2 439.1,565.2 M519.1,574.5 522.1,582.0 525.0,588.8 523.0,596.6 M523.0,596.6 515.2,593.7 501.6,593.7 487.9,592.7 481.1,596.6 478.1,606.4 477.1,615.2 484.0,624.0 493.8,633.8 505.5,645.5 M545.0,564.8 551.3,569.6 553.2,576.4 562.0,583.3 565.9,587.2 568.8,593.0 578.6,597.0 582.5,594.0 586.4,595.0 588.4,600.9 594.2,605.7 595.2,610.2 M595.2,610.2 588.4,614.5 590.3,621.9 598.1,629.6 593.2,639.1 595.2,648.8 604.0,658.6 605.9,666.4 605.0,672.3 M605.0,672.3 590.3,682.0 584.5,687.9 573.7,690.8 M573.7,690.8 568.8,703.5 564.9,713.3 560.0,721.2 M693.8,594.0 682.1,593.0 676.3,592.1 666.5,591.1 656.7,595.0 648.9,600.9 645.0,606.7 629.4,608.7 613.8,609.6 598.1,611.6 595.2,610.2 M663.6,652.7 662.2,660.9 656.7,664.5 648.9,667.4 641.1,666.4 633.3,663.5 625.5,665.4 613.8,669.3 605.0,672.3 M315.4,582.5 315.4,588.4 319.3,595.2 310.5,600.1 314.4,605.9 314.4,613.8 315.4,621.6 327.1,626.4 325.2,633.3 M254.8,450.7 258.8,458.6 266.6,463.5 271.5,471.3 279.3,478.2 287.1,480.1 292.0,485.0 297.9,489.9 303.7,492.8 M303.7,492.8 309.6,493.8 M305.7,479.1 302.7,485.0 303.7,492.8 M245.0,664.0 243.0,660.1 235.2,662.0 225.5,660.1 219.6,657.1 213.8,652.3 204.0,646.4 200.1,648.4 188.4,647.4 176.6,641.5 165.9,635.7 160.5,627.9 M29.3,636.6 37.1,633.7 42.0,636.6 41.0,640.5 48.8,642.5 58.6,643.5 66.4,644.5 69.3,647.4 69.3,653.2 73.2,655.2 72.3,659.1 64.5,664.0 59.6,666.9 58.6,673.8 56.6,683.5 52.7,692.3 43.9,696.2 40.0,699.1 43.9,705.4 46.9,713.2 41.0,722.0 38.1,728.8 43.0,734.7 36.1,739.6 31.3,745.4 30.3,755.2 M267.6,445.9 275.4,446.9 281.3,444.0 287.1,445.9 293.0,444.0 298.8,447.9 302.7,451.8 306.6,455.7 M594.3,269.3 585.5,271.3 576.7,267.4 565.0,265.4 555.2,270.3 M595.3,317.2 586.5,313.3 576.7,309.4 568.9,306.4 565.0,309.4 549.4,310.4 533.8,312.3 524.0,316.2 519.1,319.1 M549.9,359.1 548.9,350.3 545.0,344.4 535.2,345.4 526.4,343.4" fill="none" stroke="#fff" stroke-width="1.35" stroke-linejoin="round" stroke-linecap="round"/>
<path d="M523.0,596.6 528.9,598.6 527.9,608.4 536.7,618.1 532.8,629.8 525.0,635.7 521.1,645.5 522.1,655.2 M532.8,629.8 544.5,639.6 551.4,644.5 549.4,651.3 543.6,650.4 539.6,661.1 538.7,667.0 M551.4,644.5 560.2,633.8 569.9,639.6 579.7,646.4 576.8,655.2 569.9,659.1 564.1,662.1 556.3,653.3 549.4,651.3 M579.7,646.4 595.3,649.4 M564.1,662.1 562.1,672.8 566.0,684.5 573.7,690.8" fill="none" stroke="#fff" stroke-width="1" stroke-linejoin="round" opacity="0.85"/>
<path d="M311.3,267.4 L319.0,265.3 L311.7,265.5Z M311.9,264.6 L315.6,263.4 L312.4,261.9Z M312.6,261.0 L316.2,260.4 L313.0,259.0Z M314.0,258.5 L317.4,257.0 L313.0,256.5Z M312.1,254.7 L318.6,253.5 L311.0,252.5Z M310.0,246.6 L314.4,248.3 L310.4,244.6Z M310.6,243.4 L319.6,242.5 L311.1,241.4Z M311.6,240.9 L317.1,239.9 L311.4,238.1Z M311.3,237.1 L315.1,233.4 L311.2,234.1Z M311.1,233.0 L317.9,229.9 L310.9,230.4Z M310.8,228.9 L318.4,229.6 L310.7,226.7Z M310.4,225.3 L319.6,224.5 L310.6,222.2Z M310.7,221.1 L314.0,221.8 L310.8,218.5Z M310.9,216.8 L317.2,214.1 L311.1,214.9Z M311.1,213.6 L317.9,214.2 L311.4,210.3Z M311.7,209.7 L318.7,208.6 L311.3,206.9Z M311.2,206.2 L320.4,206.7 L310.8,203.6Z M310.7,202.9 L317.1,197.1 L310.3,200.0Z M309.0,195.5 L315.2,195.0 L310.1,192.7Z M310.5,191.7 L314.8,192.2 L311.3,189.9Z M311.8,188.6 L315.3,189.9 L312.6,186.5Z M312.9,184.4 L314.6,187.2 L315.1,183.0Z M315.7,182.6 L318.6,190.3 L318.6,180.8Z M318.9,180.7 L323.6,184.2 L321.8,178.9Z M325.7,176.8 L330.6,178.1 L327.2,175.3Z M328.3,174.2 L332.0,177.3 L329.5,173.0Z M330.1,172.4 L336.9,175.4 L332.6,169.9Z M332.7,169.8 L338.9,174.0 L334.9,167.6Z M335.1,166.8 L337.1,174.5 L338.1,165.3Z M338.9,164.8 L343.0,169.3 L340.7,163.9Z M342.1,163.2 L345.8,164.9 L344.1,162.3Z M345.4,162.1 L348.8,163.2 L346.6,160.7Z M348.0,159.2 L353.9,160.3 L349.2,157.8Z M353.2,152.6 L357.3,156.0 L355.5,151.9Z M356.5,151.5 L364.0,157.8 L359.9,150.4Z M361.2,150.0 L363.3,153.1 L363.1,149.3Z M364.9,150.0 L374.0,150.3 L365.7,148.1Z M366.2,146.8 L371.1,150.8 L367.0,144.9Z M367.2,144.2 L374.6,142.0 L368.6,140.9Z M372.0,137.5 L376.6,141.3 L373.9,136.6Z M375.2,135.9 L379.8,143.0 L377.3,134.9Z M378.1,135.6 L385.5,141.6 L379.8,132.8Z M380.4,131.9 L386.3,137.1 L381.5,130.0Z M382.4,128.4 L385.9,128.9 L383.4,126.9Z M384.4,126.5 L392.6,124.4 L385.1,123.0Z M385.0,123.2 L393.4,127.3 L385.7,119.8Z M385.8,119.3 L390.6,117.8 L386.2,117.2Z M385.8,115.4 L392.3,121.9 L388.2,113.2Z M389.0,112.5 L394.4,119.1 L390.4,111.2Z M391.2,110.5 L395.1,117.5 L393.6,108.4Z M394.2,107.8 L402.5,111.2 L396.0,106.2Z M397.5,106.8 L402.7,107.8 L397.3,104.3Z M397.0,99.8 L400.5,97.2 L396.8,97.7Z M395.5,92.2 L404.7,94.6 L398.0,89.7Z M398.5,89.2 L404.7,92.5 L399.9,87.8Z M400.6,87.0 L404.0,93.2 L402.6,85.1Z M406.3,83.3 L414.7,84.0 L405.9,81.1Z M405.7,79.7 L409.9,76.6 L405.3,76.9Z M405.1,76.1 L408.7,73.5 L404.6,72.7Z M403.3,70.3 L409.0,74.9 L406.1,68.3Z M406.3,68.2 L408.7,73.8 L408.6,66.6Z M409.4,66.0 L415.6,68.2 L411.1,64.8Z M411.9,64.2 L414.3,67.5 L414.1,62.7Z M414.7,62.3 L418.6,66.0 L416.9,60.7Z M417.4,60.4 L419.8,63.1 L419.7,58.8Z M421.2,60.2 L428.1,54.8 L420.5,57.7Z M420.2,56.9 L429.2,55.3 L419.5,54.4Z M419.3,53.9 L425.2,50.5 L418.4,51.0Z M416.9,49.1 L422.3,52.8 L419.5,46.7Z M420.0,46.3 L424.1,54.6 L421.6,44.8Z M422.6,43.9 L425.9,51.7 L424.2,42.5Z M425.2,41.6 L428.5,43.4 L426.8,40.1Z M427.3,39.7 L433.1,45.7 L429.9,37.4Z M430.9,38.3 L438.4,37.9 L430.7,36.2Z M428.7,25.9 L430.9,30.7 L430.8,24.2Z M434.4,21.5 L440.5,24.0 L436.5,19.9Z M438.6,21.4 L441.8,16.5 L437.3,18.6Z M436.6,17.3 L441.9,14.2 L435.9,15.6Z M435.0,13.7 L440.8,10.8 L434.2,12.0Z M435.2,6.3 L436.8,9.3 L437.0,5.0Z M438.2,4.1 L440.8,8.0 L439.8,2.8Z M440.9,1.9 L443.9,9.7 L442.7,0.6Z" fill="#fff"/>
<path d="M367.4,151.5 374.2,147.6 379.1,144.6 384.0,139.8 M352.7,155.4 346.9,163.2 342.0,172.0 M337.1,168.1 334.2,176.9 336.1,185.7 M315.6,189.6 323.4,192.5 331.3,192.5 M314.6,208.1 321.5,210.1 329.3,208.1 334.2,211.1 339.1,206.2 342.0,202.3 M314.6,231.6 320.5,229.6 325.4,225.7 331.3,223.8 334.2,224.7 M313.7,245.2 319.5,247.2 324.4,245.2 M317.6,262.8 321.5,257.0 325.4,255.0 M178.6,567.0 183.5,580.6 188.0,594.3 M354.4,387.7 360.3,389.1 365.4,396.4 M347.8,315.9 353.0,313.0 357.4,314.4 363.9,311.5 370.5,313.0 374.5,310.0" fill="none" stroke="#fff" stroke-width="1.6" stroke-linecap="round" stroke-linejoin="round"/>
<text x="554.6" y="162.9"><tspan textLength="26.0" lengthAdjust="spacingAndGlyphs">25</tspan><tspan textLength="15.3" lengthAdjust="spacingAndGlyphs">%</tspan></text>
<text x="370.7" y="199.8"><tspan textLength="26.0" lengthAdjust="spacingAndGlyphs">28</tspan><tspan textLength="15.3" lengthAdjust="spacingAndGlyphs">%</tspan></text>
<text x="431.8" y="209.2"><tspan textLength="26.0" lengthAdjust="spacingAndGlyphs">32</tspan><tspan textLength="15.3" lengthAdjust="spacingAndGlyphs">%</tspan></text>
<text x="573.8" y="254.3"><tspan textLength="31.4" lengthAdjust="spacingAndGlyphs">117</tspan><tspan textLength="15.3" lengthAdjust="spacingAndGlyphs">%</tspan></text>
<text x="582.0" y="300.7"><tspan textLength="35.2" lengthAdjust="spacingAndGlyphs">183</tspan><tspan textLength="15.3" lengthAdjust="spacingAndGlyphs">%</tspan></text>
<text x="560.5" y="338.2"><tspan textLength="35.2" lengthAdjust="spacingAndGlyphs">103</tspan><tspan textLength="15.3" lengthAdjust="spacingAndGlyphs">%</tspan></text>
<text x="356.6" y="336.0"><tspan textLength="31.4" lengthAdjust="spacingAndGlyphs">114</tspan><tspan textLength="15.3" lengthAdjust="spacingAndGlyphs">%</tspan></text>
<text x="113.7" y="377.9"><tspan textLength="22.2" lengthAdjust="spacingAndGlyphs">15</tspan><tspan textLength="15.3" lengthAdjust="spacingAndGlyphs">%</tspan></text>
<text x="297.9" y="438.2"><tspan textLength="26.0" lengthAdjust="spacingAndGlyphs">33</tspan><tspan textLength="15.3" lengthAdjust="spacingAndGlyphs">%</tspan></text>
<text x="289.1" y="476.9"><tspan textLength="26.0" lengthAdjust="spacingAndGlyphs">64</tspan><tspan textLength="15.3" lengthAdjust="spacingAndGlyphs">%</tspan></text>
<text x="366.8" y="465.1"><tspan textLength="22.2" lengthAdjust="spacingAndGlyphs">31</tspan><tspan textLength="15.3" lengthAdjust="spacingAndGlyphs">%</tspan></text>
<text x="502.0" y="429.8"><tspan textLength="22.2" lengthAdjust="spacingAndGlyphs">21</tspan><tspan textLength="15.3" lengthAdjust="spacingAndGlyphs">%</tspan></text>
<text x="458.0" y="494.4"><tspan textLength="26.0" lengthAdjust="spacingAndGlyphs">76</tspan><tspan textLength="15.3" lengthAdjust="spacingAndGlyphs">%</tspan></text>
<text x="509.4" y="514.2"><tspan textLength="35.2" lengthAdjust="spacingAndGlyphs">168</tspan><tspan textLength="15.3" lengthAdjust="spacingAndGlyphs">%</tspan></text>
<text x="450.8" y="545.1"><tspan textLength="26.0" lengthAdjust="spacingAndGlyphs">75</tspan><tspan textLength="15.3" lengthAdjust="spacingAndGlyphs">%</tspan></text>
<text x="520.1" y="549.4"><tspan textLength="35.2" lengthAdjust="spacingAndGlyphs">103</tspan><tspan textLength="15.3" lengthAdjust="spacingAndGlyphs">%</tspan></text>
<text x="454.3" y="584.6"><tspan textLength="39.0" lengthAdjust="spacingAndGlyphs">244</tspan><tspan textLength="15.3" lengthAdjust="spacingAndGlyphs">%</tspan></text>
<text x="460.9" y="613.1"><tspan textLength="35.2" lengthAdjust="spacingAndGlyphs">144</tspan><tspan textLength="15.3" lengthAdjust="spacingAndGlyphs">%</tspan></text>
<text x="341.8" y="567.9"><tspan textLength="26.0" lengthAdjust="spacingAndGlyphs">63</tspan><tspan textLength="15.3" lengthAdjust="spacingAndGlyphs">%</tspan></text>
<text x="244.6" y="563.6"><tspan textLength="26.0" lengthAdjust="spacingAndGlyphs">23</tspan><tspan textLength="15.3" lengthAdjust="spacingAndGlyphs">%</tspan></text>
<text x="618.6" y="560.2"><tspan textLength="26.0" lengthAdjust="spacingAndGlyphs">48</tspan><tspan textLength="15.3" lengthAdjust="spacingAndGlyphs">%</tspan></text>
<text x="642.1" y="640.1"><tspan textLength="26.0" lengthAdjust="spacingAndGlyphs">33</tspan><tspan textLength="15.3" lengthAdjust="spacingAndGlyphs">%</tspan></text>
<text x="591.3" y="726.0"><tspan textLength="18.4" lengthAdjust="spacingAndGlyphs">11</tspan><tspan textLength="15.3" lengthAdjust="spacingAndGlyphs">%</tspan></text>
<text x="415.6" y="672.0"><tspan textLength="22.2" lengthAdjust="spacingAndGlyphs">13</tspan><tspan textLength="15.3" lengthAdjust="spacingAndGlyphs">%</tspan></text>
<text x="41.6" y="688.5"><tspan textLength="26.0" lengthAdjust="spacingAndGlyphs">38</tspan><tspan textLength="15.3" lengthAdjust="spacingAndGlyphs">%</tspan></text>
<text x="118.6" y="707.6"><tspan textLength="22.2" lengthAdjust="spacingAndGlyphs">15</tspan><tspan textLength="15.3" lengthAdjust="spacingAndGlyphs">%</tspan></text>
</svg>
<div id="panel">
<svg class="deco" viewBox="0 0 312 819">
 <defs>
  <radialGradient id="glow" cx="0.5" cy="0.5" r="0.5"><stop offset="0" stop-color="#3a62d8" stop-opacity="0.75"/><stop offset="1" stop-color="#24348a" stop-opacity="0"/></radialGradient>
  <linearGradient id="n1g" x1="0" y1="0" x2="0" y2="1"><stop offset="0" stop-color="#eef0ff"/><stop offset="0.42" stop-color="#c9cdf3"/><stop offset="0.5" stop-color="#e6e8fb"/><stop offset="1" stop-color="#ffffff"/></linearGradient>
 </defs>
 <polygon points="0,0 9,0 73,250 166,108 235,153 0,567" fill="#ffffff" opacity="0.035"/>
 <polygon points="211,226 278,180 312,201 312,300 200,520 140,520 240,320 252,240" fill="#ffffff" opacity="0.025"/>
 <text transform="translate(-235,314) rotate(40)" font-family="Liberation Sans, sans-serif" font-weight="700" font-size="112" fill="#ffffff" opacity="0.032">n1info.si</text>
 <ellipse cx="246" cy="755" rx="70" ry="55" fill="url(#glow)"/>
 <g fill="url(#n1g)">
  <path d="M196.8,768.5 L196.8,722 Q196.8,716.8 202,716.8 L210,716.8 Q213.5,716.8 216,719.5 L255,756 Q257.3,758.5 257.3,762 L257.3,764 Q257.3,768.5 252.8,768.5 L246,768.5 Q242.5,768.5 240,766 L211.6,738.5 L211.6,768.5 Z"/>
  <path d="M282.8,716.8 L282.8,768.5 L267.4,768.5 L267.4,732.3 L258.6,732.3 L258.6,727 Q258.6,725.5 260,724 L264,719 Q266,716.8 269,716.8 Z"/>
 </g>
</svg>
<div id="vir">VIR: ACER</div>
<div id="title"><span>SLOVENIJA IZSTOPA</span></div>
<div id="desc"><div><span style="transform:scaleX(1.136)">Evropske države po</span></div><div><span style="transform:scaleX(1.163)">čezmejnih prenosnih</span></div><div><span style="transform:scaleX(1.215)">zmogljivosti</span></div><div><span style="transform:scaleX(1.177)">daljnovodov, izraženih</span></div><div><span style="transform:scaleX(1.156)">v deležu najvišje</span></div><div><span style="transform:scaleX(1.137)">domače konične</span></div><div><span style="transform:scaleX(1.156)">porabe</span></div></div>
<div id="n1info">n1info<i>.si</i></div>
</div>
</body>
</html>
